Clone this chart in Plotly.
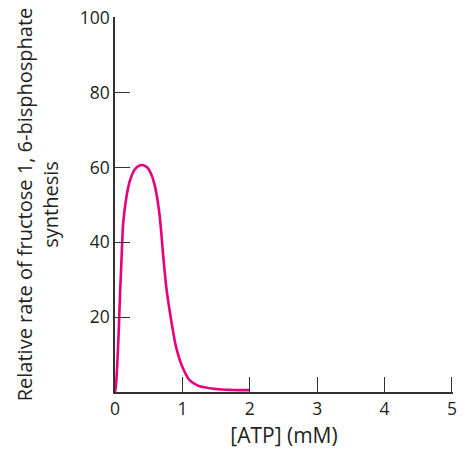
import plotly.graph_objects as go

atp_mM = [0.0, 0.015, 0.049, 0.074, 0.099, 0.123, 0.173, 0.222, 0.296, 0.36, 0.42, 0.48, 0.535, 0.59,
          0.656, 0.715, 0.764, 0.838, 0.912, 1.01, 1.11, 1.23, 1.5, 1.75, 2.0]
rate = [0.0, 1.9, 13.4, 25.8, 36.5, 45.4, 52.5, 56.5, 59.5, 60.5, 60.6, 60.0, 58.3, 55.2,
        48.1, 36.5, 27.6, 18.7, 11.6, 6.3, 3.1, 1.7, 0.8, 0.55, 0.5]

x_ticks = [0, 1, 2, 3, 4, 5]
y_ticks = [20, 40, 60, 80, 100]

font_family = "Open Sans, Lato, sans-serif"

fig = go.Figure()
fig.add_trace(go.Scatter(
    x=atp_mM, y=rate, mode="lines",
    line=dict(color="#E6007E", width=2.6, shape="spline", smoothing=1.0),
    showlegend=False, hoverinfo="skip",
))

fig.update_layout(
    width=465, height=452,
    margin=dict(l=115, r=12, t=17, b=60, autoexpand=False),
    paper_bgcolor="white", plot_bgcolor="white",
    font=dict(family=font_family, size=17.5, color="#231F20"),
    xaxis=dict(
        range=[0, 5.015], tickvals=x_ticks, ticktext=[str(v) for v in x_ticks],
        ticks="inside", ticklen=15, tickwidth=1.3, tickcolor="#333333",
        showline=True, linecolor="#333333", linewidth=1.5,
        showgrid=False, zeroline=False, automargin=False,
        ticklabeloverflow="allow",
        title=dict(text="[ATP] (mM)", font=dict(size=21), standoff=10),
    ),
    yaxis=dict(
        range=[0, 100.2], tickvals=y_ticks, ticktext=[str(v) for v in y_ticks],
        ticks="inside", ticklen=15, tickwidth=1.3, tickcolor="#333333",
        showline=True, linecolor="#333333", linewidth=1.5,
        showgrid=False, zeroline=False, automargin=False,
        ticklabeloverflow="allow",
        title=dict(text="Relative rate of fructose 1, 6-bisphosphate<br>synthesis",
                   font=dict(size=20), standoff=16),
    ),
)

fig.write_html("out.html", config={"displayModeBar": False},
               post_script="document.body.style.margin='0';")
